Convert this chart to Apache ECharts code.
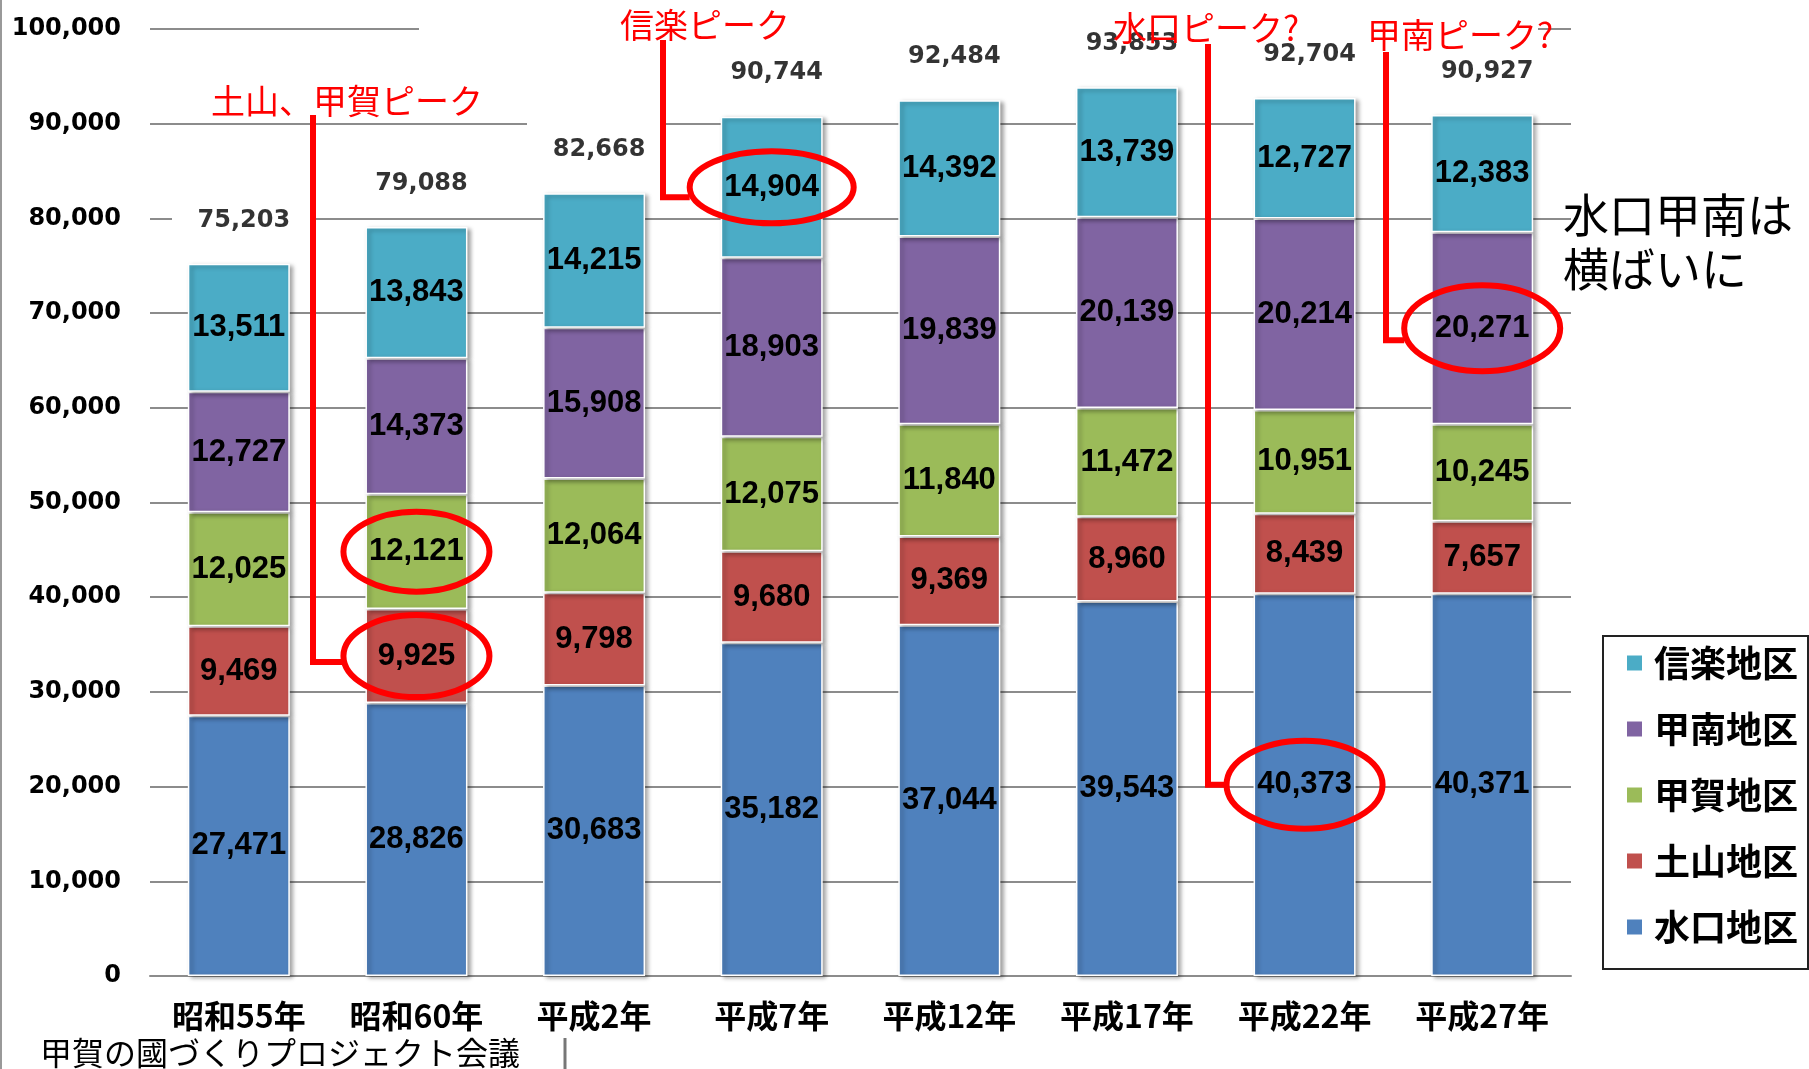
<!DOCTYPE html>
<html>
<head>
<meta charset="utf-8">
<script src="https://cdn.jsdelivr.net/npm/echarts@6/dist/echarts.min.js"></script>
<style>
  html, body { margin: 0; padding: 0; background: #fff; }
  #main { width: 1809px; height: 1069px; }
</style>
</head>
<body>
<div id="main"></div>
<script>
// 地区別人口の推移
const years = ['昭和55年', '昭和60年', '平成2年', '平成7年', '平成12年', '平成17年', '平成22年', '平成27年']
const minakuchi = [27471, 28826, 30683, 35182, 37044, 39543, 40373, 40371]
const tsuchiyama = [9469, 9925, 9798, 9680, 9369, 8960, 8439, 7657]
const kokaArea = [12025, 12121, 12064, 12075, 11840, 11472, 10951, 10245]
const konan = [12727, 14373, 15908, 18903, 19839, 20139, 20214, 20271]
const shigaraki = [13511, 13843, 14215, 14904, 14392, 13739, 12727, 12383]
const totals = [75203, 79088, 82668, 90744, 92484, 93853, 92704, 90927]

const CJK = '"Noto Sans CJK JP", sans-serif'
const fmt = v => String(v).replace(/\B(?=(\d{3})+(?!\d))/g, ',')

const chartDom = document.getElementById('main')
const myChart = echarts.init(chartDom)

function seg(name, data, color) {
  return {
    name: name,
    type: 'bar',
    stack: 'total',
    barWidth: 102,
    data: data,
    itemStyle: {
      color: color,
      borderColor: '#fff',
      borderWidth: 1.5,
      shadowColor: 'rgba(0,0,0,0.35)',
      shadowBlur: 4,
      shadowOffsetX: 3,
      shadowOffsetY: 2
    },
    label: {
      show: true,
      position: 'inside',
      formatter: p => fmt(p.value),
      color: '#000',
      fontFamily: '"Liberation Sans", Arial, sans-serif',
      fontWeight: 'bold',
      fontSize: 31
    }
  }
}

const option = {
  animation: false,
  backgroundColor: '#fff',
  grid: { left: 150, right: 238, top: 29, bottom: 93 },
  legend: {
    orient: 'vertical',
    left: 1603,
    top: 636,
    data: ['信楽地区', '甲南地区', '甲賀地区', '土山地区', '水口地区'],
    icon: 'rect',
    itemWidth: 17,
    itemHeight: 17,
    itemGap: 26,
    padding: [7, 10, 22, 22],
    borderColor: '#222',
    borderWidth: 2,
    textStyle: {
      fontFamily: CJK,
      fontWeight: 'bold',
      fontSize: 36,
      lineHeight: 40,
      color: '#000',
      padding: [0, 0, 0, 6]
    }
  },
  xAxis: {
    type: 'category',
    data: years,
    axisTick: { show: false },
    axisLine: { lineStyle: { color: '#8c8c8c', width: 2 } },
    axisLabel: {
      color: '#000',
      fontFamily: CJK,
      fontWeight: 'bold',
      fontSize: 32,
      margin: 24
    }
  },
  yAxis: {
    type: 'value',
    min: 0,
    max: 100000,
    interval: 10000,
    axisLine: { show: false },
    axisTick: { show: false },
    splitLine: { lineStyle: { color: '#8c8c8c', width: 2 } },
    axisLabel: {
      color: '#000',
      fontFamily: '"DejaVu Sans", sans-serif',
      fontWeight: 'bold',
      fontSize: 24,
      margin: 29,
      formatter: v => fmt(v)
    }
  },
  series: [
    seg('水口地区', minakuchi, '#4f81bd'),
    seg('土山地区', tsuchiyama, '#c0504d'),
    seg('甲賀地区', kokaArea, '#9bbb59'),
    seg('甲南地区', konan, '#8064a2'),
    seg('信楽地区', shigaraki, '#4bacc6'),
    {
      name: '合計',
      type: 'scatter',
      data: totals,
      symbolSize: 1,
      itemStyle: { color: 'rgba(0,0,0,0)' },
      z: 5,
      label: {
        show: true,
        position: 'top',
        distance: 31,
        offset: [5, 0],
        formatter: p => fmt(p.value),
        color: '#000',
        fontFamily: '"DejaVu Sans", sans-serif',
        fontWeight: 'bold',
        fontSize: 24
      }
    }
  ]
}
myChart.setOption(option)

// 注釈（赤丸・引出線）
const stacks = [minakuchi, tsuchiyama, kokaArea, konan, shigaraki]
function midOf(s, i) {
  let base = 0
  for (let k = 0; k < s; k++) base += stacks[k][i]
  return base + stacks[s][i] / 2
}
const px = (i, v) => myChart.convertToPixel({ seriesIndex: 0 }, [i, v])
const yPx = v => myChart.convertToPixel({ yAxisIndex: 0 }, v)

const RED = '#ff0000'
const g = []

// 目盛線の途切れ（元図のテキストボックスの白地）
g.push({ type: 'rect', z: 1, shape: { x: 419, y: yPx(100000) - 4, width: 1119, height: 9 }, style: { fill: '#fff' } })
g.push({ type: 'rect', z: 1, shape: { x: 527, y: yPx(90000) - 4, width: 138, height: 9 }, style: { fill: '#fff' } })
g.push({ type: 'rect', z: 1, shape: { x: 172, y: yPx(80000) - 4, width: 138, height: 9 }, style: { fill: '#fff' } })

function ring(s, i, rx, ry) {
  const c = px(i, midOf(s, i))
  g.push({ type: 'ellipse', z: 100, shape: { cx: c[0], cy: c[1], rx: rx, ry: ry }, style: { fill: 'none', stroke: RED, lineWidth: 6 } })
  return { x: c[0] - rx, y: c[1] }
}
function leader(x, y0, end, dy) {
  g.push({ type: 'polyline', z: 100, shape: { points: [[x, y0], [x, end.y + dy], [end.x, end.y + dy]] }, style: { fill: 'none', stroke: RED, lineWidth: 6 } })
}
function note(text, x, y) {
  g.push({ type: 'text', z: 101, x: x, y: y, style: { text: text, fill: RED, font: '34px ' + CJK, textVerticalAlign: 'middle' } })
}

ring(2, 1, 73, 40)
const e1 = ring(1, 1, 73, 41)
leader(313, 115, e1, 6)
note('土山、甲賀ピーク', 211, 101)

const e2 = ring(4, 3, 82, 36)
leader(663, 40, e2, 10)
note('信楽ピーク', 620, 25)

const e3 = ring(0, 6, 78, 44)
leader(1208, 44, e3, 0)
note('水口ピーク?', 1113, 28)

const e4 = ring(3, 7, 78, 43)
leader(1386, 52, e4, 12)
note('甲南ピーク?', 1367, 35)

g.push({ type: 'text', z: 101, x: 1563, y: 215, style: { text: '水口甲南は', fill: '#000', font: '46px ' + CJK, textVerticalAlign: 'middle' } })
g.push({ type: 'text', z: 101, x: 1563, y: 269, style: { text: '横ばいに', fill: '#000', font: '46px ' + CJK, textVerticalAlign: 'middle' } })

// 左端の枠線・出典
g.push({ type: 'line', z: 100, shape: { x1: 1, y1: 0, x2: 1, y2: 1069 }, style: { stroke: '#999', lineWidth: 2 } })
g.push({ type: 'line', z: 100, shape: { x1: 565, y1: 1038, x2: 565, y2: 1069 }, style: { stroke: '#777', lineWidth: 3 } })
g.push({ type: 'text', z: 101, x: 40, y: 1053, style: { text: '甲賀の國づくりプロジェクト会議', fill: '#000', font: '32px ' + CJK, textVerticalAlign: 'middle' } })

myChart.setOption({ graphic: g })
</script>
</body>
</html>
